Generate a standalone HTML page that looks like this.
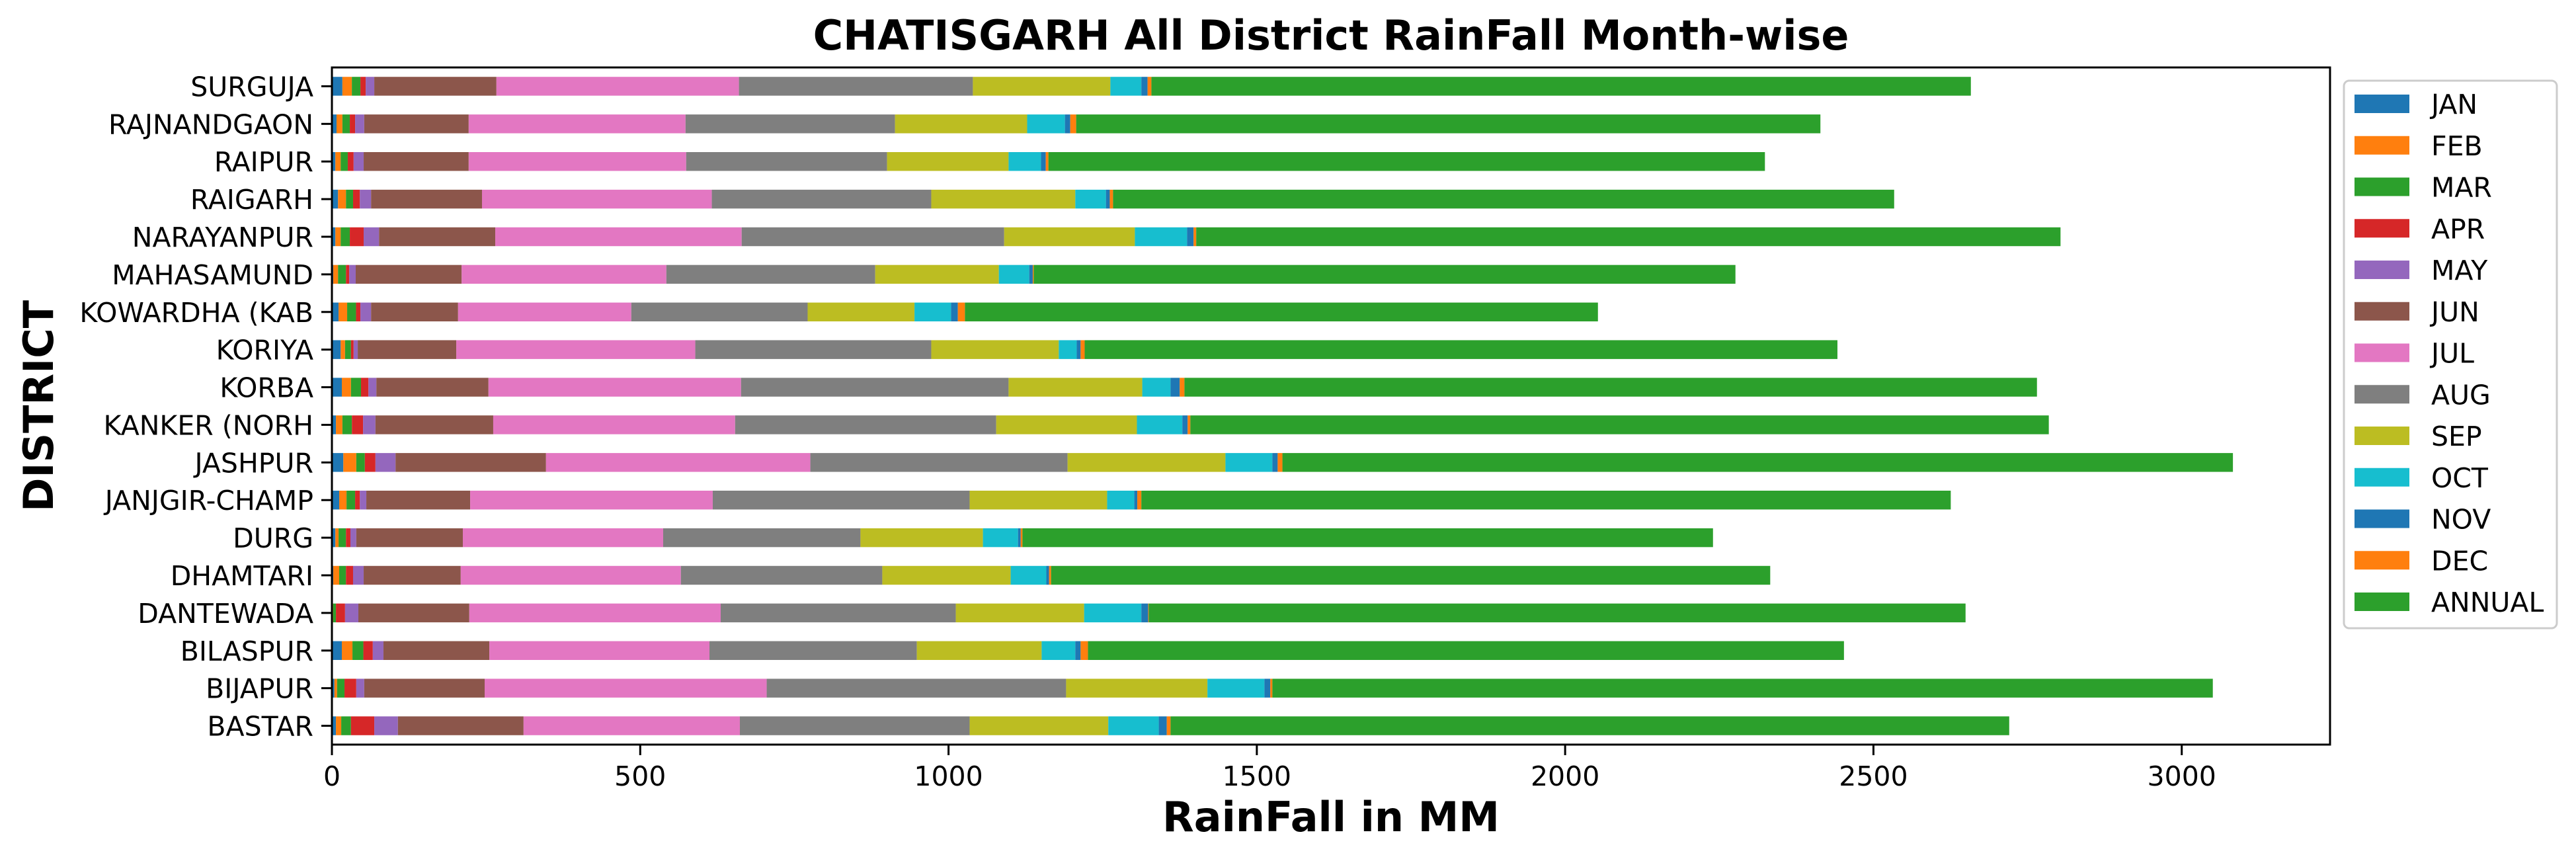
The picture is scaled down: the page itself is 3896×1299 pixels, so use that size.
<!DOCTYPE html>
<html><head><meta charset="utf-8"><style>
html,body{margin:0;padding:0;background:#fff;}
svg{display:block;font-family:"DejaVu Sans","Liberation Sans",sans-serif;}
</style></head><body>
<svg id="chart" width="3896" height="1299" viewBox="0 0 3896 1299" xmlns="http://www.w3.org/2000/svg">
<rect width="3896" height="1299" fill="#fff"/>
<text x="2013" y="75" text-anchor="middle" font-size="62" font-weight="bold">CHATISGARH All District RainFall Month-wise</text>
<text x="2013" y="1257" text-anchor="middle" font-size="62" font-weight="bold">RainFall in MM</text>
<text transform="translate(80,614) rotate(-90)" text-anchor="middle" font-size="62" font-weight="bold">DISTRICT</text>
<g id="bars"></g>
<g id="axes"></g>
<g id="legend"></g>
</svg>
<script>
const districts = ["SURGUJA","RAJNANDGAON","RAIPUR","RAIGARH","NARAYANPUR","MAHASAMUND","KOWARDHA (KAB","KORIYA","KORBA","KANKER (NORH","JASHPUR","JANJGIR-CHAMP","DURG","DHAMTARI","DANTEWADA","BILASPUR","BIJAPUR","BASTAR"];
const seriesNames = ["JAN","FEB","MAR","APR","MAY","JUN","JUL","AUG","SEP","OCT","NOV","DEC","ANNUAL"];
const JAN = [17.0,7.5,5.6,9.9,5.6,2.2,10.8,14.2,16.1,6.5,18.5,11.8,5.6,2.2,1.5,16.1,4.1,6.5];
const FEB = [15.3,9.5,8.6,12.9,8.6,7.7,13.9,7.1,14.8,10.5,21.0,11.9,5.2,9.6,0.5,17.2,4.3,8.6];
const MAR = [13.9,12.0,11.5,11.5,14.8,12.9,14.4,9.6,16.3,15.4,13.9,13.9,12.0,11.0,4.5,17.7,12.0,15.8];
const APR = [8.6,8.6,9.5,11.0,22.5,5.2,7.1,4.3,12.0,18.1,17.2,7.7,7.2,11.5,14.8,15.3,19.1,37.8];
const MAY = [13.9,14.8,16.3,18.2,24.9,10.6,17.3,6.7,12.9,20.1,32.6,10.5,9.5,17.2,21.6,17.3,12.9,38.3];
const JUN = [198.1,169.4,170.3,179.9,188.5,171.8,141.1,159.8,181.8,191.0,244.0,168.4,172.8,157.4,179.9,171.7,195.3,203.8];
const JUL = [393.3,351.7,352.7,372.7,399.6,332.0,280.9,387.6,409.6,392.3,428.7,393.4,324.9,357.0,407.7,357.0,457.4,350.8];
const AUG = [379.4,339.7,325.8,355.9,425.7,338.7,286.0,382.7,433.9,423.4,417.2,416.6,320.0,326.7,381.3,336.3,485.6,372.6];
const SEP = [223.0,214.3,197.1,233.6,212.0,200.5,173.3,206.8,216.8,228.2,256.0,223.0,198.6,208.2,208.1,202.4,229.2,224.9];
const OCT = [50.2,61.3,52.6,49.7,84.7,49.3,59.3,29.1,45.9,73.7,76.1,44.1,56.9,57.8,92.8,54.6,92.4,81.9];
const NOV = [10.1,8.6,7.7,6.2,10.5,5.7,11.0,6.3,14.8,8.6,8.6,4.8,4.3,4.4,11.0,8.6,9.5,12.9];
const DEC = [6.2,9.6,4.3,5.3,4.3,1.5,11.5,6.6,7.7,4.4,7.7,6.6,2.9,3.3,1.0,11.9,3.4,6.2];
const ANNUAL = [1329.0,1207.0,1162.0,1266.8,1401.7,1138.1,1026.6,1220.8,1382.6,1392.2,1541.5,1312.7,1119.9,1166.3,1324.7,1226.1,1525.2,1360.1];
const xTicks = [0,500,1000,1500,2000,2500,3000];

const series = [JAN,FEB,MAR,APR,MAY,JUN,JUL,AUG,SEP,OCT,NOV,DEC,ANNUAL];
const colors = ["#1f77b4","#ff7f0e","#2ca02c","#d62728","#9467bd","#8c564b","#e377c2","#7f7f7f","#bcbd22","#17becf","#1f77b4","#ff7f0e","#2ca02c"];
const NS = "http://www.w3.org/2000/svg";
const L = 502, R = 3524, T = 102, B = 1126, XMAX = 3240.5;
const xs = v => L + v * (R - L) / XMAX;
const step = (B - T) / districts.length;
const yc = i => T + (i + 0.5) * step;
const bh = step * 0.5;
function mk(tag, attrs, parent){ const e=document.createElementNS(NS,tag); for(const k in attrs) e.setAttribute(k,attrs[k]); parent.appendChild(e); return e; }

const bars = document.getElementById('bars');
districts.forEach((d, i) => {
  let acc = 0;
  series.forEach((s, j) => {
    const v = s[i];
    const r = mk('rect', {x: xs(acc), y: yc(i) - bh/2, width: xs(acc+v) - xs(acc), height: bh, fill: colors[j]}, bars);
    
    
    acc += v;
  });
});

const axes = document.getElementById('axes');
const frame = mk('rect', {x: L, y: T, width: R - L, height: B - T, fill: 'none', stroke: '#000', 'stroke-width': 3}, axes);


districts.forEach((d, i) => {
  const t = mk('line', {x1: L - 16, x2: L, y1: yc(i), y2: yc(i), stroke: '#000', 'stroke-width': 3}, axes);
  
  
  const lb = mk('text', {x: L - 28, y: yc(i) + 15, 'text-anchor': 'end', 'font-size': 41}, axes);
  
  
  lb.textContent = d;
});
xTicks.forEach(v => {
  const t = mk('line', {x1: xs(v), x2: xs(v), y1: B, y2: B + 16, stroke: '#000', 'stroke-width': 3}, axes);
  
  
  const lb = mk('text', {x: xs(v), y: B + 62, 'text-anchor': 'middle', 'font-size': 41}, axes);
  
  
  lb.textContent = v;
});

const leg = document.getElementById('legend');
const box = mk('rect', {x: 3545, y: 122, width: 322, height: 828, rx: 8, fill: '#fff', stroke: '#cccccc', 'stroke-width': 3}, leg);


seriesNames.forEach((n, j) => {
  const cy = 157 + j * 62.75;
  const p = mk('rect', {x: 3561, y: cy - 14, width: 83, height: 28, fill: colors[j]}, leg);
  
  
  const tx = mk('text', {x: 3677, y: cy + 15, 'font-size': 41}, leg);
  
  
  tx.textContent = n;
});
</script>
</body></html>
